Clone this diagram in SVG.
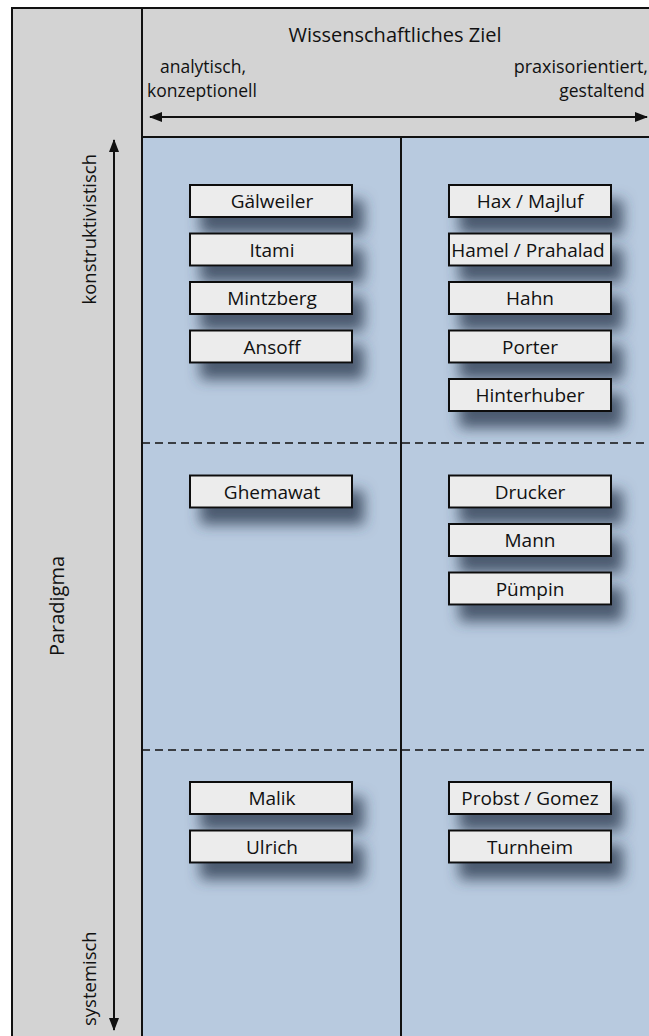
<svg xmlns="http://www.w3.org/2000/svg" width="649" height="1036" viewBox="0 0 649 1036">
  <style>
    .lbl { font-family: "Open Sans", "Noto Sans", "DejaVu Sans", sans-serif; fill: #111; }
    .box { fill: #ececec; stroke: #111; stroke-width: 2; }
    .node text { font-size: 19px; text-anchor: middle; }
    .axis { stroke: #111; stroke-width: 2; fill: none; }
    .dash { stroke: #111; stroke-width: 1.6; stroke-dasharray: 8 5; }
  </style>
  <defs>
    <marker id="arrowHead" markerUnits="userSpaceOnUse" markerWidth="14" markerHeight="10" refX="12" refY="5" orient="auto-start-reverse">
      <path d="M0,0 L13,5 L0,10 Z" fill="#111"/>
    </marker>
    <filter id="softShadow" x="-30%" y="-80%" width="180%" height="320%">
      <feDropShadow dx="11" dy="16" stdDeviation="7" flood-color="#2e3e52" flood-opacity="0.8"/>
    </filter>
  </defs>

  <!-- background panels -->
  <rect x="0" y="0" width="649" height="1036" fill="#ffffff"/>
  <rect x="12" y="8" width="130" height="1040" fill="#d3d3d3"/>
  <rect x="142" y="8" width="520" height="129" fill="#d3d3d3"/>
  <rect x="142" y="137" width="520" height="911" fill="#b8cadf"/>

  <!-- frame and grid lines -->
  <g id="grid">
    <rect x="12" y="8" width="700" height="1100" fill="none" stroke="#111" stroke-width="2"/>
    <line x1="142" y1="8" x2="142" y2="1040" stroke="#111" stroke-width="2"/>
    <line x1="142" y1="137" x2="660" y2="137" stroke="#111" stroke-width="2"/>
    <line x1="401" y1="137" x2="401" y2="1040" stroke="#111" stroke-width="2"/>
    <line class="dash" x1="142" y1="443" x2="660" y2="443"/>
    <line class="dash" x1="142" y1="750" x2="660" y2="750"/>
  </g>

  <!-- header labels -->
  <g id="header">
    <text class="lbl" x="395" y="42" font-size="20" text-anchor="middle">Wissenschaftliches Ziel</text>
    <text class="lbl" x="203" y="73" font-size="17.5" text-anchor="middle">analytisch,</text>
    <text class="lbl" x="202" y="97" font-size="17.5" text-anchor="middle">konzeptionell</text>
    <text class="lbl" x="648" y="73" font-size="18" text-anchor="end">praxisorientiert,</text>
    <text class="lbl" x="602" y="97" font-size="17.5" text-anchor="middle">gestaltend</text>
  </g>

  <!-- side labels -->
  <g id="side">
    <text class="lbl" transform="translate(96,154) rotate(-90)" font-size="18.5" text-anchor="end">konstruktivistisch</text>
    <text class="lbl" transform="translate(64,606) rotate(-90)" font-size="20" text-anchor="middle">Paradigma</text>
    <text class="lbl" transform="translate(96,1026) rotate(-90)" font-size="18.5" text-anchor="start">systemisch</text>
  </g>

  <!-- axis arrows -->
  <g id="connectors">
    <line class="axis" x1="150" y1="117" x2="647" y2="117" marker-start="url(#arrowHead)" marker-end="url(#arrowHead)"/>
    <line class="axis" x1="114" y1="140" x2="114" y2="1030" marker-start="url(#arrowHead)" marker-end="url(#arrowHead)"/>
  </g>

  <!-- left column: analytisch / konzeptionell -->
  <g id="gaelweiler" class="node"><rect class="box" x="190" y="185" width="162" height="32" filter="url(#softShadow)"/><text class="lbl" x="272" y="208">Gälweiler</text></g>
  <g id="itami" class="node"><rect class="box" x="190" y="233.5" width="162" height="32" filter="url(#softShadow)"/><text class="lbl" x="272" y="256.5">Itami</text></g>
  <g id="mintzberg" class="node"><rect class="box" x="190" y="282" width="162" height="32" filter="url(#softShadow)"/><text class="lbl" x="272" y="305">Mintzberg</text></g>
  <g id="ansoff" class="node"><rect class="box" x="190" y="330.5" width="162" height="32" filter="url(#softShadow)"/><text class="lbl" x="272" y="353.5">Ansoff</text></g>
  <g id="ghemawat" class="node"><rect class="box" x="190" y="475.5" width="162" height="32" filter="url(#softShadow)"/><text class="lbl" x="272" y="498.5">Ghemawat</text></g>
  <g id="malik" class="node"><rect class="box" x="190" y="782" width="162" height="32" filter="url(#softShadow)"/><text class="lbl" x="272" y="805">Malik</text></g>
  <g id="ulrich" class="node"><rect class="box" x="190" y="830.5" width="162" height="32" filter="url(#softShadow)"/><text class="lbl" x="272" y="853.5">Ulrich</text></g>

  <!-- right column: praxisorientiert / gestaltend -->
  <g id="hax-majluf" class="node"><rect class="box" x="449" y="185" width="162" height="32" filter="url(#softShadow)"/><text class="lbl" x="530" y="208">Hax / Majluf</text></g>
  <g id="hamel-prahalad" class="node"><rect class="box" x="449" y="233.5" width="162" height="32" filter="url(#softShadow)"/><text class="lbl" x="528" y="256.5">Hamel / Prahalad</text></g>
  <g id="hahn" class="node"><rect class="box" x="449" y="282" width="162" height="32" filter="url(#softShadow)"/><text class="lbl" x="530" y="305">Hahn</text></g>
  <g id="porter" class="node"><rect class="box" x="449" y="330.5" width="162" height="32" filter="url(#softShadow)"/><text class="lbl" x="530" y="353.5">Porter</text></g>
  <g id="hinterhuber" class="node"><rect class="box" x="449" y="379" width="162" height="32" filter="url(#softShadow)"/><text class="lbl" x="530" y="402">Hinterhuber</text></g>
  <g id="drucker" class="node"><rect class="box" x="449" y="475.5" width="162" height="32" filter="url(#softShadow)"/><text class="lbl" x="530" y="498.5">Drucker</text></g>
  <g id="mann" class="node"><rect class="box" x="449" y="524" width="162" height="32" filter="url(#softShadow)"/><text class="lbl" x="530" y="547">Mann</text></g>
  <g id="puempin" class="node"><rect class="box" x="449" y="572.5" width="162" height="32" filter="url(#softShadow)"/><text class="lbl" x="530" y="595.5">Pümpin</text></g>
  <g id="probst-gomez" class="node"><rect class="box" x="449" y="782" width="162" height="32" filter="url(#softShadow)"/><text class="lbl" x="530" y="805">Probst / Gomez</text></g>
  <g id="turnheim" class="node"><rect class="box" x="449" y="830.5" width="162" height="32" filter="url(#softShadow)"/><text class="lbl" x="530" y="853.5">Turnheim</text></g>
</svg>
